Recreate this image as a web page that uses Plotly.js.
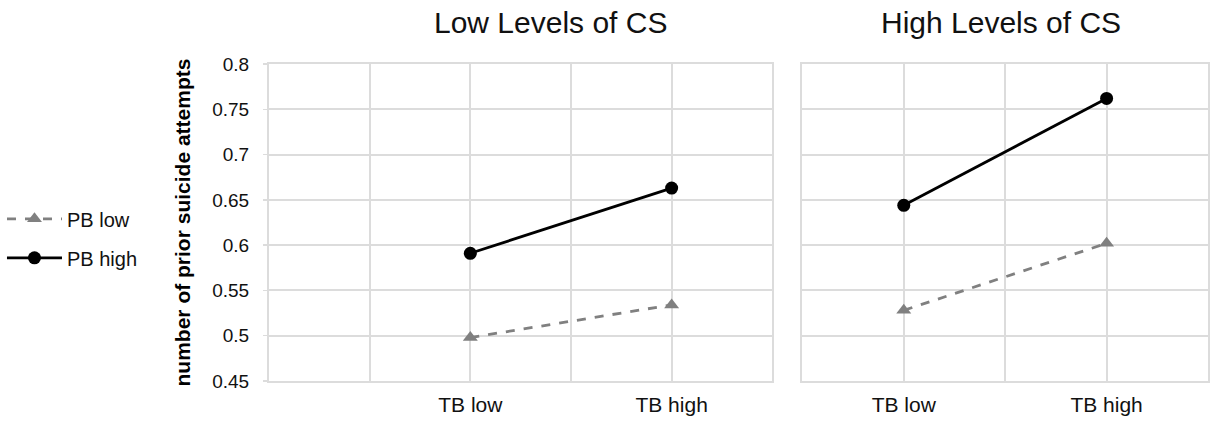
<!DOCTYPE html>
<html><head><meta charset="utf-8">
<script src="https://cdn.plot.ly/plotly-3.0.1.min.js"></script>
<style>html,body{margin:0;padding:0;background:#fff;}#chart{width:1211px;height:422px;}</style>
</head><body><div id="chart"></div>
<script>
const categories = ["TB low", "TB high"];
const panelTitles = ["Low Levels of CS", "High Levels of CS"];
const seriesNames = ["PB low", "PB high"];
const lowCS_PBlow = [0.498, 0.534];
const lowCS_PBhigh = [0.591, 0.663];
const highCS_PBlow = [0.528, 0.602];
const highCS_PBhigh = [0.644, 0.762];
const yTicks = [0.45, 0.5, 0.55, 0.6, 0.65, 0.7, 0.75, 0.8];

const font = "Liberation Sans, Arial, sans-serif";
const grid = "#dcdcdc";
const lowStyle = {line:{color:"#808080", width:2.8, dash:"dash"}, marker:{symbol:"triangle-up", size:13, color:"#808080"}};
const highStyle = {line:{color:"#000", width:2.8}, marker:{symbol:"circle", size:13, color:"#000"}};

const traces = [
  Object.assign({x:categories, y:lowCS_PBlow, name:seriesNames[0], mode:"lines+markers", xaxis:"x", yaxis:"y", legendgroup:"a"}, lowStyle),
  Object.assign({x:categories, y:lowCS_PBhigh, name:seriesNames[1], mode:"lines+markers", xaxis:"x", yaxis:"y", legendgroup:"b"}, highStyle),
  Object.assign({x:categories, y:highCS_PBlow, name:seriesNames[0], mode:"lines+markers", xaxis:"x2", yaxis:"y2", showlegend:false, legendgroup:"a"}, lowStyle),
  Object.assign({x:categories, y:highCS_PBhigh, name:seriesNames[1], mode:"lines+markers", xaxis:"x2", yaxis:"y2", showlegend:false, legendgroup:"b"}, highStyle)
];

const xCommon = {type:"category", showgrid:true, gridcolor:grid, gridwidth:2, showline:true, linecolor:grid, linewidth:2, mirror:true, zeroline:false, ticks:"", ticklabelstandoff:4, tickfont:{family:font, size:21, color:"#111"}, fixedrange:true};
const yCommon = {range:[0.45, 0.8], tickvals:yTicks, showgrid:true, gridcolor:grid, gridwidth:2, showline:true, linecolor:grid, linewidth:2, mirror:true, zeroline:false, fixedrange:true};

const layout = {
  width:1211, height:422,
  margin:{l:268, r:3, t:64, b:41},
  paper_bgcolor:"#fff", plot_bgcolor:"#fff",
  font:{family:font, color:"#111"},
  showlegend:true,
  legend:{x:-0.283, xanchor:"left", y:0.45, yanchor:"middle", itemwidth:55, font:{family:font, size:20, color:"#111"}, bgcolor:"rgba(0,0,0,0)", tracegroupgap:10},
  xaxis: Object.assign({}, xCommon, {domain:[0, 0.536], categoryarray:[" ", categories[0], "  ", categories[1]], categoryorder:"array", range:[-1, 4]}),
  xaxis2: Object.assign({}, xCommon, {domain:[0.568, 1], categoryarray:[categories[0], " ", categories[1]], categoryorder:"array", range:[-1, 3]}),
  yaxis: Object.assign({}, yCommon, {ticks:"outside", ticklen:4, tickcolor:grid, tickwidth:1.5, ticklabelstandoff:10, tickfont:{family:font, size:19, color:"#111"}, title:{text:"<b>number of prior suicide attempts</b>", font:{family:font, size:21, color:"#000"}, standoff:16}}),
  yaxis2: Object.assign({}, yCommon, {anchor:"x2", showticklabels:false, ticks:""}),
  annotations:[
    {text:panelTitles[0], xref:"paper", yref:"paper", x:0.2995, y:1, yshift:42, xanchor:"center", yanchor:"middle", showarrow:false, font:{family:font, size:30, color:"#111"}},
    {text:panelTitles[1], xref:"paper", yref:"paper", x:0.7798, y:1, yshift:42, xanchor:"center", yanchor:"middle", showarrow:false, font:{family:font, size:30, color:"#111"}}
  ]
};

Plotly.newPlot("chart", traces, layout, {displayModeBar:false, staticPlot:true});
</script></body></html>
